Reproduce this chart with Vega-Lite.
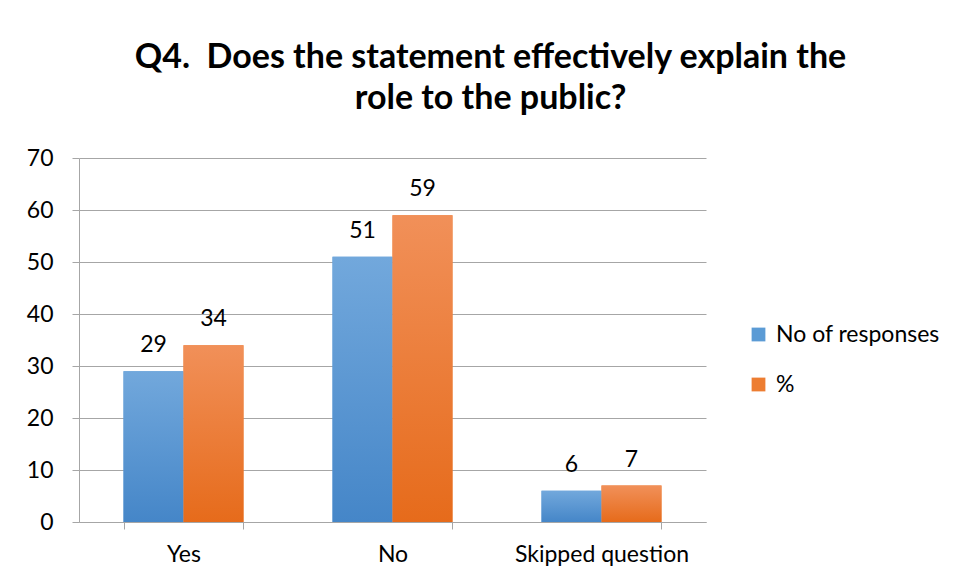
{
  "$schema": "https://vega.github.io/schema/vega-lite/v6.json",
  "autosize": "none",
  "width": 627,
  "height": 364,
  "padding": {"left": 79, "top": 158, "right": 251, "bottom": 59},
  "background": "white",
  "title": {
    "text": ["Q4.\u00a0 Does the statement effectively explain the", "role to the public?"],
    "font": "Lato",
    "fontSize": 34,
    "fontWeight": "bold",
    "color": "#000000",
    "anchor": "middle",
    "dx": 98,
    "offset": 31,
    "lineHeight": 41
  },
  "data": {
    "values": [
      {"category": "Yes", "series": "No of responses", "value": 29},
      {"category": "Yes", "series": "%", "value": 34},
      {"category": "No", "series": "No of responses", "value": 51},
      {"category": "No", "series": "%", "value": 59},
      {"category": "Skipped question", "series": "No of responses", "value": 6},
      {"category": "Skipped question", "series": "%", "value": 7}
    ]
  },
  "encoding": {
    "x": {
      "field": "category",
      "type": "nominal",
      "sort": ["Yes", "No", "Skipped question"],
      "scale": {"paddingInner": 0.426, "paddingOuter": 0.213},
      "axis": {
        "title": null,
        "labelAngle": 0,
        "labelFont": "Lato",
        "labelFontSize": 23,
        "labelColor": "#000000",
        "labelPadding": 14,
        "labelLimit": 300,
        "tickBand": "extent",
        "tickSize": 7,
        "tickColor": "#a6a6a6",
        "domainColor": "#a6a6a6",
        "grid": false
      }
    },
    "xOffset": {
      "field": "series",
      "type": "nominal",
      "sort": ["No of responses", "%"],
      "scale": {"domain": ["No of responses", "%"], "paddingInner": 0, "paddingOuter": 0}
    },
    "y": {
      "field": "value",
      "type": "quantitative",
      "scale": {"domain": [0, 70], "nice": false},
      "axis": {
        "title": null,
        "values": [0, 10, 20, 30, 40, 50, 60, 70],
        "labelFont": "Lato",
        "labelFontSize": 23,
        "labelColor": "#000000",
        "labelPadding": 19,
        "tickSize": 7,
        "tickColor": "#a6a6a6",
        "domainColor": "#a6a6a6",
        "grid": true,
        "gridColor": "#a6a6a6"
      }
    }
  },
  "layer": [
    {
      "mark": {"type": "bar"},
      "encoding": {
        "color": {
          "field": "series",
          "type": "nominal",
          "sort": ["No of responses", "%"],
          "scale": {"domain": ["No of responses", "%"], "range": ["#5b9bd5", "#ed7d31"]},
          "legend": {
            "title": null,
            "orient": "none",
            "legendX": 668,
            "legendY": 165,
            "symbolType": "square",
            "symbolSize": 190,
            "symbolStrokeWidth": 0,
            "labelFont": "Lato",
            "labelFontSize": 23,
            "labelColor": "#000000",
            "labelLimit": 400,
            "rowPadding": 26,
            "labelOffset": 6
          }
        }
      }
    },
    {
      "transform": [{"filter": "datum.series === 'No of responses'"}],
      "mark": {
        "type": "bar",
        "fill": {"gradient": "linear", "x1": 0, "y1": 0, "x2": 0, "y2": 1, "stops": [{"offset": 0, "color": "#72a8dc"}, {"offset": 1, "color": "#4586c8"}]}
      }
    },
    {
      "transform": [{"filter": "datum.series === '%'"}],
      "mark": {
        "type": "bar",
        "fill": {"gradient": "linear", "x1": 0, "y1": 0, "x2": 0, "y2": 1, "stops": [{"offset": 0, "color": "#f19059"}, {"offset": 1, "color": "#e66b1b"}]}
      }
    },
    {
      "mark": {"type": "text", "baseline": "bottom", "dy": -14, "font": "Lato", "fontSize": 23, "color": "#000000"},
      "encoding": {
        "text": {"field": "value", "type": "quantitative"}
      }
    }
  ],
  "config": {"view": {"stroke": null}}
}
